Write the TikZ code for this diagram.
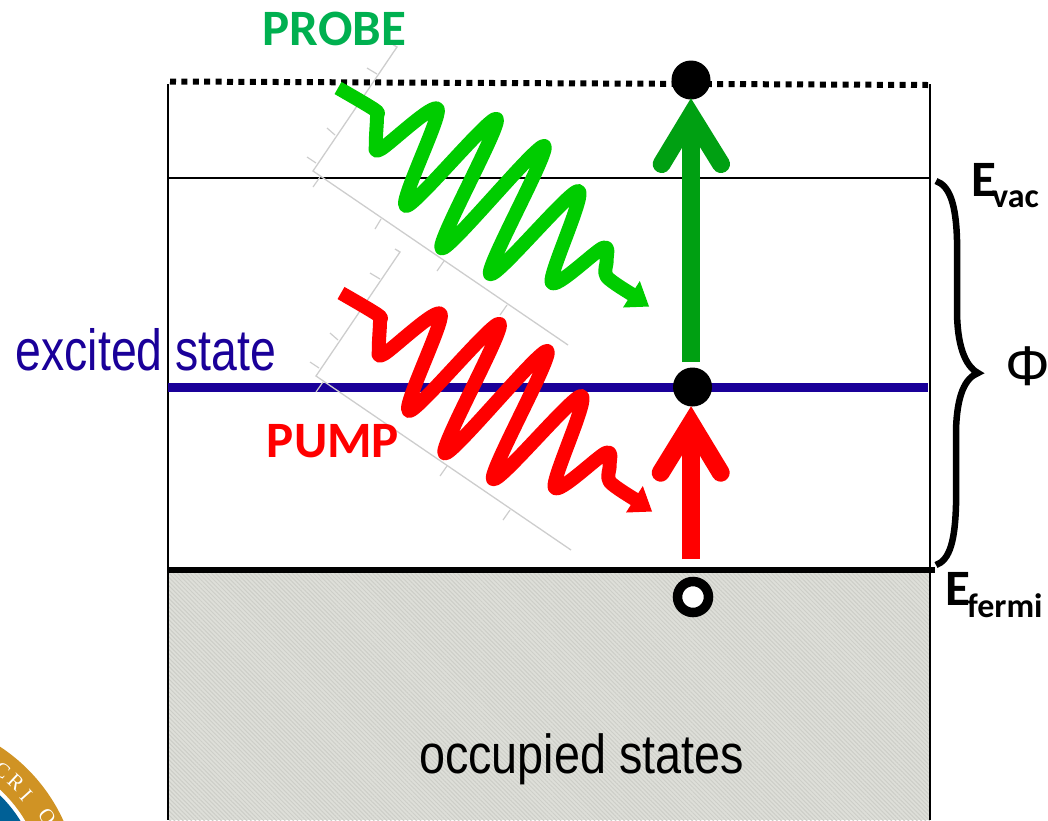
\documentclass[tikz,border=0pt]{standalone}
\usepackage{fontspec}
\setmainfont{Liberation Sans}
\newfontfamily\carlito{Carlito}
\usetikzlibrary{patterns.meta}
\definecolor{wavegreen}{RGB}{0,204,0}
\definecolor{arrowgreen}{RGB}{0,160,18}
\definecolor{labelgreen}{RGB}{0,176,80}
\definecolor{statblue}{RGB}{26,0,153}
\definecolor{framegray}{RGB}{205,205,205}
\definecolor{fillgray}{RGB}{222,223,217}
\definecolor{hatchgray}{RGB}{205,206,200}
\definecolor{ringgold}{RGB}{208,147,36}
\definecolor{sealblue}{RGB}{0,96,150}
\newcommand{\wavepath}[1]{%
  \draw[#1,line width=14pt,line join=round]
    plot[smooth,tension=0.5] coordinates {(338,88) (375,110) (377,117) (376,143) (381,149)
    (437.7,109.3) (406,206) (496.7,119) (441.7,248.3) (544.3,146) (490,274)
    (578.3,191) (551.7,282.3) (602.7,248) (606.7,260) (606.7,276.7) (633,295)};
  \fill[#1] (649,306.5) -- (623,307.5) -- (639.8,281) -- cycle;
}
\newcommand{\framemarks}{%
  \draw[framegray,line width=1.3pt] (392,44) -- (397,47) -- (313,171) -- (568,345);
  \draw[framegray,line width=1.2pt] (367,68) -- (377,74) (327,128) -- (335,135) (307,157) -- (316,163);
  \draw[framegray,line width=1.2pt] (313,187) -- (320,177) (375,229) -- (381,219) (437,271) -- (444,261) (500,315) -- (507,305);
}
\tikzset{
  x=1pt,y=-1pt,
  level/.style={draw=black,line width=2.7pt},
  electron/.style={circle,fill=black,inner sep=0pt,minimum size=39pt},
  holemark/.style={circle,draw=black,fill=white,line width=9.5pt,inner sep=0pt,minimum size=31pt},
  shaft/.style={line width=18pt},
  headarms/.style={line width=18pt,line cap=round,miter limit=10},
  boldlabel/.style={font=\carlito\bfseries\fontsize{51}{51}\selectfont,inner sep=0pt},
  sublabel/.style={font=\carlito\bfseries\fontsize{34}{34}\selectfont,inner sep=0pt},
  plainlabel/.style={inner sep=0pt},
  sealtext/.style={text=white,inner sep=0pt,font=\fontspec{Liberation Serif}\fontsize{21}{21}\selectfont},
}
\begin{document}
\begin{tikzpicture}
\useasboundingbox (0,0) rectangle (1048,820);
\clip (0,0) rectangle (1048,820);
% seal
\fill[ringgold] (-96,893) circle (175);
\fill[white] (-96,893) circle (141);
\fill[sealblue] (-96,893) circle (137);
\node[sealtext,rotate=-38] (sealc) at (2,770) {C};
\node[sealtext,rotate=-43] (sealr) at (16,782) {R};
\node[sealtext,rotate=-48] (seali) at (26,795) {I};
\node[sealtext,rotate=-55] (sealo) at (47,817) {O};
% occupied region
\fill[fillgray] (168,570) rectangle (930,820);
\fill[pattern={Lines[angle=-45,distance=3pt,line width=1pt]},pattern color=hatchgray] (168,570) rectangle (930,820);
% levels and box
\draw[level] (168,84) -- (168,820);
\draw[level] (930,84) -- (930,820);
\draw[level] (168,178) -- (930,178);
\draw[black,line width=6pt,dash pattern=on 6pt off 5.4pt] (170,81.5) -- (928,85);
\draw[statblue,line width=9pt] (168,387) -- (928,387);
\draw[black,line width=6pt] (168,570) -- (935,570);
% frames
\framemarks
\begin{scope}[shift={(3,205)}]
  \framemarks
\end{scope}
% waves
\wavepath{wavegreen}
\begin{scope}[shift={(3,205)}]
  \wavepath{red}
\end{scope}
% electrons
\node[electron] (top) at (691,80) {};
\node[electron] (mid) at (692.5,387) {};
\node[holemark] (hole) at (693,597) {};
% vertical arrows
\coordinate (gbase) at (691,362);
\coordinate (gvert) at (691,115.5);
\coordinate (gl) at (661.7,164);
\coordinate (gr) at (721,164);
\draw[arrowgreen,shaft] (gbase) -- (gvert);
\draw[arrowgreen,headarms] (gl) -- (gvert) -- (gr);
\coordinate (rbase) at (691,559);
\coordinate (rvert) at (691,423.5);
\coordinate (rl) at (660.7,472.7);
\coordinate (rr) at (720.7,472.7);
\draw[red,shaft] (rbase) -- (rvert);
\draw[red,headarms] (rl) -- (rvert) -- (rr);
% brace
\coordinate (bt) at (936,181);
\coordinate (bb) at (936,565);
\coordinate (btip) at (978,373);
\draw[black,line width=6.5pt]
  (bt) .. controls (950,186) and (956,205) .. (957,240)
  -- (957,310) .. controls (957,345) and (965,366) .. (btip)
  .. controls (965,378) and (957,395) .. (956,430)
  -- (956,505) .. controls (955,540) and (950,560) .. (bb);
% labels
\node[boldlabel,text=labelgreen] (probe) at (334.5,29) {PROBE};
\node[boldlabel,text=red] (pump) at (333,441) {PUMP};
\node[plainlabel,text=statblue,anchor=base] (excited) at (146,370) {\fontsize{58}{58}\selectfont\scalebox{0.80}[1]{excited state}};
\node[plainlabel,anchor=base] (occ) at (581.5,773) {\fontsize{55}{55}\selectfont\scalebox{0.85}[1]{occupied states}};
\node[boldlabel,anchor=base west] (evac) at (971,196) {E};
\node[sublabel,anchor=base west] (evacs) at (992,207) {vac};
\node[boldlabel,anchor=base west] (efermi) at (945,605) {E};
\node[sublabel,anchor=base west] (efermis) at (967,617) {fermi};
\node[plainlabel] (phi) at (1027.5,366) {\fontsize{56}{56}\selectfont Φ};
\end{tikzpicture}
\end{document}
